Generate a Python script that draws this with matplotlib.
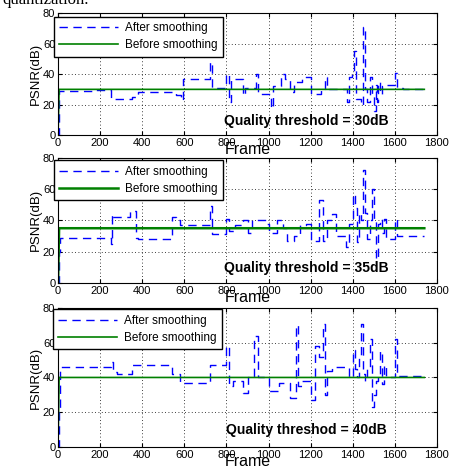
import numpy as np
import matplotlib.pyplot as plt

plt.rcParams['font.family'] = ['Liberation Sans', 'DejaVu Sans']

# frame breakpoints and PSNR levels of the smoothed curves (step-like)
frames_30 = [0, 5, 180, 250, 350, 380, 560, 585, 592, 720, 730, 800, 810, 820, 830,
             880, 890, 940, 950, 1010, 1020, 1060, 1080, 1100, 1120, 1160, 1200, 1250,
             1270, 1280, 1375, 1380, 1395, 1405, 1415, 1440, 1450, 1460, 1470, 1480,
             1490, 1500, 1510, 1515, 1520, 1530, 1540, 1550, 1560, 1600, 1610, 1640, 1740]
psnr_30 = [0, 29, 29.5, 24, 25, 28, 26, 23, 37, 48, 31, 40, 22, 36, 37,
           26, 31, 40, 27, 18, 32, 40, 37, 28, 35, 38, 27, 30,
           38, 30, 22, 38, 40, 55, 24, 20, 71, 30, 22, 38,
           27, 16, 33, 22, 35, 27, 32, 33, 33, 41, 31, 30, 30]

frames_35 = [0, 5, 10, 250, 255, 260, 340, 370, 380, 540, 560, 580, 720, 730, 760,
             800, 810, 840, 880, 900, 920, 990, 1000, 1040, 1070, 1090, 1120, 1150,
             1180, 1200, 1240, 1260, 1280, 1300, 1320, 1370, 1380, 1400, 1410, 1420,
             1430, 1440, 1450, 1460, 1470, 1480, 1490, 1500, 1510, 1520, 1530, 1540,
             1550, 1560, 1600, 1610, 1740]
psnr_35 = [0, 20, 29, 25, 44, 42, 46, 29, 28, 42, 40, 37, 49, 31, 31,
           41, 33, 37, 40, 32, 40, 38, 32, 40, 35, 27, 30, 37,
           38, 27, 53, 27, 40, 44, 30, 23, 38, 57, 48, 26,
           45, 40, 72, 45, 28, 40, 60, 40, 15, 38, 41, 32,
           41, 28, 41, 30, 30]

frames_40 = [0, 5, 10, 250, 260, 280, 350, 540, 580, 720, 800, 810, 830, 880, 900,
             930, 950, 1000, 1050, 1100, 1130, 1140, 1160, 1200, 1220, 1240, 1260,
             1270, 1280, 1300, 1380, 1400, 1410, 1420, 1430, 1440, 1450, 1460, 1470,
             1480, 1490, 1500, 1510, 1520, 1530, 1540, 1550, 1560, 1570, 1600, 1610, 1740]
psnr_40 = [0, 20, 46, 49, 43, 42, 47, 42, 37, 47, 58, 35, 38, 31, 40,
           64, 40, 32, 37, 28, 70, 35, 38, 27, 58, 52, 71,
           30, 44, 46, 40, 56, 45, 40, 52, 71, 42, 38, 45,
           62, 23, 30, 38, 42, 55, 36, 47, 40, 40, 62, 41, 41]

panels = [
    (frames_30, psnr_30, 30, 'Quality threshold = 30dB', [0.129, 0.710, 0.842, 0.262], 1.2, (-0.012, 0.97)),
    (frames_35, psnr_35, 35, 'Quality threshold = 35dB', [0.129, 0.393, 0.842, 0.268], 1.8, (-0.012, 0.98)),
    (frames_40, psnr_40, 40, 'Quality threshod = 40dB', [0.129, 0.041, 0.842, 0.298], 1.2, (-0.014, 0.99)),
]

fig = plt.figure(figsize=(4.5, 4.66), dpi=100)
fig.text(0.005, 1.0, 'quantization.', family='Liberation Serif', fontsize=12,
         va='center', ha='left')

for frames, psnr, thr, label, rect, glw, anchor in panels:
    ax = fig.add_axes(rect)
    ax.plot(frames, psnr, drawstyle='steps-post', color='b', ls=(0, (6, 4)), lw=1,
            label='After smoothing')
    ax.plot([0, 5, 1740], [0, thr, thr], color='#008000', lw=glw,
            label='Before smoothing')
    ax.set_xlim(0, 1800)
    ax.set_ylim(0, 80)
    ax.set_xticks(np.arange(0, 1801, 200))
    ax.set_yticks(np.arange(0, 81, 20))
    ax.grid(True, ls=(0, (1, 3)), color='k', lw=0.6)
    ax.tick_params(direction='in', top=True, right=True, labelsize=8, pad=2, length=3)
    ax.set_xlabel('Frame', fontsize=11.5, labelpad=-4)
    ax.set_ylabel('PSNR(dB)', fontsize=9.5, labelpad=1)
    ax.text(1180, 9.5, label, fontsize=10, fontweight='bold', ha='center', va='center')
    leg = ax.legend(loc='upper left', bbox_to_anchor=anchor, fontsize=8.5,
                    handlelength=5.0, fancybox=False, framealpha=1, edgecolor='k',
                    borderaxespad=0, borderpad=0.45, labelspacing=0.45, handletextpad=0.6)
    leg.get_frame().set_linewidth(1.0)

fig.savefig('out.png', dpi=100)
